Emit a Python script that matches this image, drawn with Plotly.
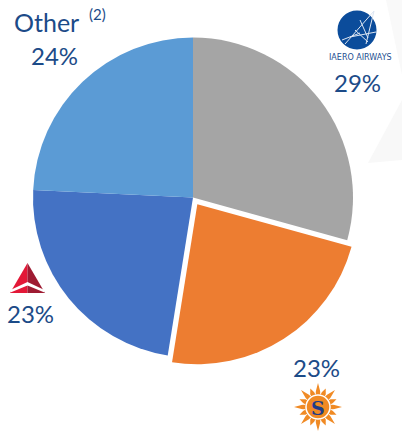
import numpy as np
import plotly.graph_objects as go

# ---- data ----
labels = ["iAero Airways", "Sun Country", "Delta", "Other"]
shares = [29, 23, 23, 24]
slice_colors = ["#a5a5a5", "#ed7d31", "#4472c4", "#5b9bd5"]
pulls = [0, 0.05, 0, 0]
pct_labels = ["29%", "23%", "23%", "24%"]

W, H = 402, 433
TXT = "#1c4b88"
FONT = "Lato"

fig = go.Figure()

# hidden pixel-space axis for decorations
fig.add_trace(go.Scatter(x=[0, W], y=[0, H], mode="markers",
                         marker=dict(opacity=0), hoverinfo="skip", showlegend=False))

cx, cy, R = 193, 197.5, 160
half = R * (1 + max(pulls))
fig.add_trace(go.Pie(
    labels=labels, values=shares, marker=dict(colors=slice_colors, line=dict(width=0)),
    pull=pulls, sort=False, direction="clockwise", rotation=0,
    textinfo="none", showlegend=False,
    domain=dict(x=[(cx - half) / W, (cx + half) / W],
                y=[(H - cy - half) / H, (H - cy + half) / H]),
))

shapes = []
# faint background shape
shapes.append(dict(type="path", xref="x", yref="y", layer="below",
                   path="M 368 163 L 402 100 L 402 160 Z",
                   fillcolor="#f8f8f8", line=dict(width=0)))
shapes.append(dict(type="path", xref="x", yref="y", layer="below",
                   path="M 386 0 L 402 0 L 402 75 Z",
                   fillcolor="#f9f9f9", line=dict(width=0)))

# iAero logo
shapes.append(dict(type="circle", xref="x", yref="y", x0=337.5, x1=376.5, y0=10.5, y1=49.5,
                   fillcolor="#0b4c9b", line=dict(width=0)))
for (x0, y0, x1, y1) in [(345, 44, 374, 11), (374, 11, 366, 44), (350, 37, 376, 32),
                         (355, 30, 368, 42), (342, 40, 360, 33), (360, 20, 368, 38)]:
    shapes.append(dict(type="line", xref="x", yref="y", x0=x0, y0=y0, x1=x1, y1=y1,
                       line=dict(color="#dde6f2", width=1)))

# Delta logo
shapes.append(dict(type="path", xref="x", yref="y", path="M 27.5 263 L 10 293 L 27.5 293 Z",
                   fillcolor="#e31837", line=dict(width=0)))
shapes.append(dict(type="path", xref="x", yref="y", path="M 27.5 263 L 27.5 293 L 45 293 Z",
                   fillcolor="#9e1b32", line=dict(width=0)))
shapes.append(dict(type="path", xref="x", yref="y",
                   path="M 10.5 290 L 27.5 282 L 44.5 290 L 44.5 292.5 L 27.5 285.5 L 10.5 292.5 Z",
                   fillcolor="white", line=dict(width=0)))

# Sun Country logo
scx, scy = 318, 407
pts = []
n = 16
for i in range(n * 2):
    a = np.pi * i / n
    if i % 2 == 0:
        r = 24 if (i // 2) % 2 == 0 else 20
    else:
        r = 14
    pts.append((scx + r * np.sin(a), scy - r * np.cos(a)))
star = "M " + " L ".join(f"{x:.1f} {y:.1f}" for x, y in pts) + " Z"
shapes.append(dict(type="path", xref="x", yref="y", path=star,
                   fillcolor="#f08a24", line=dict(width=0)))
for i in range(16):
    a = np.pi * i / 8 + np.pi / 16
    shapes.append(dict(type="line", xref="x", yref="y",
                       x0=scx + 13 * np.sin(a), y0=scy - 13 * np.cos(a),
                       x1=scx + 19 * np.sin(a), y1=scy - 19 * np.cos(a),
                       line=dict(color="white", width=1)))
shapes.append(dict(type="circle", xref="x", yref="y", x0=scx - 12, x1=scx + 12,
                   y0=scy - 12, y1=scy + 12, fillcolor="#f08a24",
                   line=dict(color="white", width=1.5)))

ann = []
def txt(x, y, s, size, color=TXT, family=FONT, xanchor="center"):
    ann.append(dict(x=x, y=y, xref="x", yref="y", text=s, showarrow=False,
                    font=dict(size=size, color=color, family=family),
                    xanchor=xanchor, yanchor="middle"))

txt(12, 22, "Other", 25, xanchor="left")
txt(97, 14, "(2)", 15)
txt(54, 55, pct_labels[3], 24)
txt(357, 82, pct_labels[0], 24)
txt(30, 313, pct_labels[2], 24)
txt(316, 367, pct_labels[1], 24)
txt(360, 57, "IAERO AIRWAYS", 8, color="#1d4f91", family="DejaVu Sans")
txt(scx, scy + 1, "<b>S</b>", 19, color="#1f3c88", family="DejaVu Serif")

fig.update_layout(
    width=W, height=H, margin=dict(l=0, r=0, t=0, b=0),
    paper_bgcolor="white", plot_bgcolor="white",
    xaxis=dict(range=[0, W], visible=False, domain=[0, 1], fixedrange=True),
    yaxis=dict(range=[H, 0], visible=False, domain=[0, 1], fixedrange=True),
    shapes=shapes, annotations=ann, showlegend=False,
)
fig.write_html("out.html", config=dict(displayModeBar=False),
               post_script="document.body.style.margin='0';document.body.style.overflow='hidden';")
